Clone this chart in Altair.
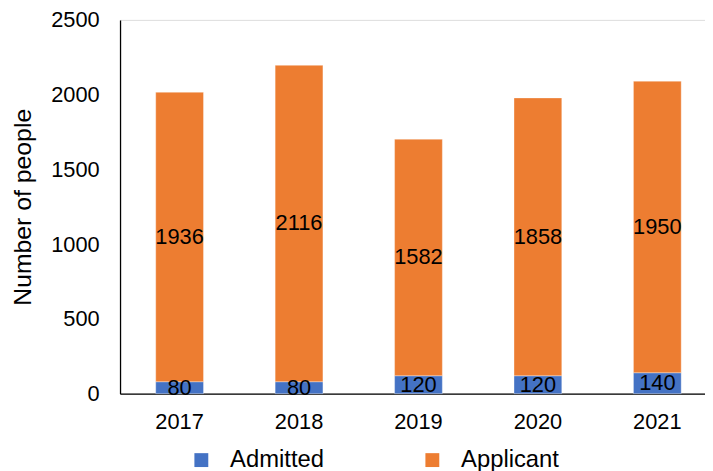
import altair as alt
import pandas as pd

years = ["2017", "2018", "2019", "2020", "2021"]
admitted = [80, 80, 120, 120, 140]
applicant = [1936, 2116, 1582, 1858, 1950]
series = ["Admitted", "Applicant"]
colors = ["#4472C4", "#ED7D31"]
y_ticks = [0, 500, 1000, 1500, 2000, 2500]

rows = []
for i, y in enumerate(years):
    rows.append({"year": y, "series": series[0], "value": admitted[i], "order": 0})
    rows.append({"year": y, "series": series[1], "value": applicant[i], "order": 1})
df = pd.DataFrame(rows)

FONT = "Liberation Sans"

base = alt.Chart(df).transform_stack(
    stack="value", groupby=["year"], as_=["y0", "y1"], sort=[alt.SortField("order")]
).transform_calculate(mid="(datum.y0 + datum.y1) / 2")

x = alt.X(
    "year:N",
    sort=years,
    title=None,
    scale=alt.Scale(paddingInner=0.6, paddingOuter=0.249, align=0.6),
    axis=alt.Axis(labelAngle=0, labelFontSize=22, labelPadding=18, ticks=False,
                  domainColor="#000", domainWidth=1.3, labelColor="#000", labelFont=FONT),
)

bars = base.mark_bar(stroke="white", strokeWidth=1, strokeOpacity=0.35).encode(
    x=x,
    y=alt.Y("y1:Q", title="Number of people",
            scale=alt.Scale(domain=[0, 2500], nice=False),
            axis=alt.Axis(values=y_ticks, format="d", grid=False, ticks=False, labelFontSize=22,
                          labelPadding=21, titleFontSize=25, titleFontWeight="normal",
                          titlePadding=15, titleColor="#000", labelColor="#000",
                          domainColor="#000", domainWidth=1.3, labelFont=FONT, titleFont=FONT)),
    y2="y0:Q",
    color=alt.Color("series:N", sort=series,
                    scale=alt.Scale(domain=series, range=colors),
                    legend=alt.Legend(title=None, orient="none", direction="horizontal",
                                      legendX=70, legendY=432, padding=0,
                                      symbolType="square", symbolSize=196, symbolStrokeWidth=0,
                                      labelFontSize=24, labelOffset=17, columnPadding=97,
                                      labelColor="#000", labelFont=FONT)),
)

labels = base.mark_text(fontSize=22, color="#000", font=FONT, baseline="middle").encode(
    x=alt.X("year:N", sort=years),
    y=alt.Y("mid:Q"),
    text=alt.Text("value:Q"),
)

chart = (bars + labels).properties(
    width=590, height=377,
    autosize=alt.AutoSizeParams(type="none"),
    padding={"left": 113, "top": 10, "right": 0, "bottom": 76},
).configure_view(stroke=None).configure(font=FONT)

chart.save("out.html", embed_options={"renderer": "svg", "actions": False})
